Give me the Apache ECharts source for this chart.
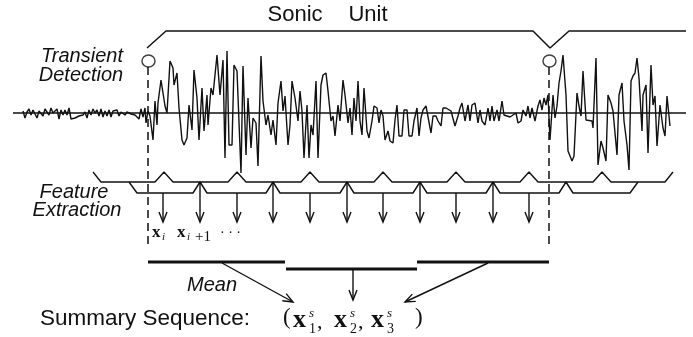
<!DOCTYPE html>
<html><head><meta charset="utf-8">
<script src="https://cdn.jsdelivr.net/npm/echarts@6/dist/echarts.min.js"></script>
<style>html,body{margin:0;padding:0;background:#fff}#c{width:693px;height:337px}</style>
</head><body><div id="c"></div>
<script>
// ---- DATA ----
// waveform samples: time position and amplitude (positive = up)
const waveT = [23,25,27,29,31,33,35,37,39,41,43,45,47,49,51,53,55,57,59,61,63,65,67,69,71,73,75,77,79,81,83,85,87,89,91,93,95,97,99,101,103,105,107,109,111,113,115,117,119,121,123,125,127,129,131,133,135,137,139,141,143,145,146,148,150,153,155,157,158,161,163,165,167,170,173,174,177,179,182,184,187,189,192,194,197,199,202,204,207,208,211,213,217,220,223,225,227,229,232,234,237,241,243,246,248,251,253,256,258,261,263,266,268,271,273,276,278,281,283,285,288,290,292,295,298,300,302,304,307,309,311,313,316,318,321,323,326,328,331,333,335,338,340,343,345,348,350,352,354,356,358,360,362,364,367,369,372,374,377,379,381,383,385,388,390,393,395,397,399,402,404,407,409,412,414,417,419,421,423,426,428,431,433,436,438,441,443,446,448,451,453,455,458,460,462,465,468,470,472,475,478,480,482,485,488,490,492,494,497,499,502,504,507,510,513,516,518,521,523,526,528,530,532,535,538,540,542,544,546,548,550,552,553,555,557,559,561,563,566,568,572,574,577,579,581,583,586,588,592,593,596,598,601,603,606,608,611,613,617,619,622,624,627,629,631,633,635,637,639,642,643,646,648,651,653,655,657,660,663,665,667,670];
const waveA = [2,-5,1,4,-2,3,-1,-5,2,1,-3,4,1,-2,5,0,-1,4,-6,3,-2,3,-2,5,-6,-4,-5,-4,-3,-4,-2,1,-5,3,-2,4,0,3,-3,4,-4,2,-3,3,-4,2,0,3,-3,1,3,-2,1,2,-1,1,-2,-4,-6,4,-4,5,-10,2,-3,-27,12,-12,10,33,35,7,0,52,45,28,40,5,-27,-32,-25,8,-17,43,15,-27,25,-18,18,-12,25,18,58,18,53,-45,62,-32,-32,48,42,-60,47,-42,15,-35,-5,-10,-53,57,12,-12,-2,-22,-7,-32,10,32,2,17,-32,-12,32,15,-8,22,2,-45,8,-45,-12,-22,32,-45,28,38,40,22,-8,-3,-23,8,-8,33,18,-10,5,-22,15,-8,32,-8,-22,25,-18,-25,-8,7,5,-10,3,-3,-27,-18,-28,-30,-7,8,-23,-23,3,3,-23,-23,-8,5,-23,-5,3,7,7,-20,-3,-3,-8,-13,5,5,7,2,0,-13,-3,5,10,-8,8,-8,8,10,-10,3,-8,-12,5,-8,7,-8,3,-8,12,-2,-3,-4,-2,0,-10,-8,3,-3,7,-5,5,-8,7,13,3,15,8,18,-27,-25,18,-5,7,30,42,58,18,-38,-48,-43,20,7,-3,42,-7,-7,-8,-15,55,-52,-28,-35,-48,18,10,2,-42,18,30,-8,-32,-57,32,37,40,55,35,-18,18,28,-40,48,8,17,-33,8,-15,-23,17,-13];
const baselineSpan = [13, 686];
const onsets = [148, 549];          // transient detections
const unitEnd = 686;
const upperWindowPeaks = [164,237,310,383,456,529,602];
const upperRowSpan = [93, 673];
const lowerWindowPeaks = [200,273,347,420,493,566];
const lowerRowSpan = [129, 638];
const featureX = [163,200,237,273,310,347,383,420,456,493,529];
const meanStart = [148,286,417];
const meanEnd = [285,417,549];
const meanLevel = [262,269,262];
const meanFrom = [222,353,488];
const summaryTo = [293,353,405];

// ---- LAYOUT ----
const Y = {bracketTop:31, bracketTip:48, circle:61, dashTop:67, dashBottom:247,
  upper:182, upperPeak:172, lower:193, arrowEnd:222, summaryTop:301};
const INK = '#111';

const lineSeries = (pts, extra) => Object.assign({
  type:'line', xAxisIndex:0, yAxisIndex:0, data:pts, showSymbol:false, symbol:'none',
  silent:true, animation:false, lineStyle:{color:INK, width:1.4}
}, extra||{});

// bracket
const o1 = onsets[0], o2 = onsets[1];
const bracket = [[o1-1,Y.bracketTip],[o1+18,Y.bracketTop],[o2-16,Y.bracketTop],[o2+1,Y.bracketTip],[o2+20,Y.bracketTop],[unitEnd,Y.bracketTop]];
// feature windows
const upperRow = [[upperRowSpan[0],Y.upperPeak],[upperRowSpan[0]+8,Y.upper]];
upperWindowPeaks.forEach(c=>{upperRow.push([c-9,Y.upper],[c,Y.upperPeak],[c+9,Y.upper]);});
upperRow.push([upperRowSpan[1]-8,Y.upper],[upperRowSpan[1],Y.upperPeak]);
const lowerRow = [[lowerRowSpan[0],Y.upper],[lowerRowSpan[0]+8,Y.lower]];
lowerWindowPeaks.forEach(c=>{lowerRow.push([c-7,Y.lower],[c,Y.upper],[c+7,Y.lower]);});
lowerRow.push([lowerRowSpan[1]-8,Y.lower],[lowerRowSpan[1],Y.upper]);

const featureArrows = featureX.map((x,i)=>[x, i%2===0 ? Y.lower : Y.upper, x, Y.arrowEnd]);
const meanArrows = meanFrom.map((x,i)=>[x, meanLevel[i]+1, summaryTo[i], Y.summaryTop + (i===1?-1:1)]);

function arrowRender(params, api){
  const p1 = api.coord([api.value(0), api.value(1)]);
  const p2 = api.coord([api.value(2), api.value(3)]);
  const dx=p2[0]-p1[0], dy=p2[1]-p1[1], len=Math.hypot(dx,dy), ux=dx/len, uy=dy/len;
  const hl=10, hw=4;
  const b1=[p2[0]-ux*hl - uy*hw, p2[1]-uy*hl + ux*hw];
  const b2=[p2[0]-ux*hl + uy*hw, p2[1]-uy*hl - ux*hw];
  return {type:'group', children:[
    {type:'line', shape:{x1:p1[0],y1:p1[1],x2:p2[0],y2:p2[1]}, style:{stroke:INK,lineWidth:1.4}},
    {type:'polyline', shape:{points:[b1,p2,b2]}, style:{stroke:INK,lineWidth:1.4,fill:null}}
  ]};
}

const series = [
  {type:'line', xAxisIndex:1, yAxisIndex:1, data:[[baselineSpan[0],0],[baselineSpan[1],0]], symbol:'none', silent:true, animation:false, lineStyle:{color:INK,width:1.5}},
  {type:'line', xAxisIndex:1, yAxisIndex:1, data:waveT.map((t,i)=>[t,waveA[i]]), symbol:'none', silent:true, animation:false, lineStyle:{color:INK,width:1.4}},
  lineSeries(bracket, {lineStyle:{color:INK,width:1.5}}),
  lineSeries(upperRow),
  lineSeries(lowerRow),
];
onsets.forEach(o=>series.push(lineSeries([[o,Y.dashTop],[o,Y.dashBottom]], {lineStyle:{color:INK,width:1.5,type:[8,5]}})));
meanStart.forEach((s,i)=>series.push(lineSeries([[s,meanLevel[i]],[meanEnd[i],meanLevel[i]]], {lineStyle:{color:INK,width:3}})));
series.push({type:'custom', xAxisIndex:0, yAxisIndex:0, renderItem:arrowRender, data:featureArrows, silent:true, animation:false});
series.push({type:'custom', xAxisIndex:0, yAxisIndex:0, renderItem:arrowRender, data:meanArrows, silent:true, animation:false});
series.push({type:'scatter', xAxisIndex:0, yAxisIndex:0, data:onsets.map(o=>[o+0.5,Y.circle]), symbol:'circle', symbolSize:[13,12],
  itemStyle:{color:'#fff', borderColor:INK, borderWidth:1.4}, silent:true, animation:false, z:5});

const SANS = '"Liberation Sans", Arial, sans-serif';
const SERIF = '"Liberation Serif", "DejaVu Serif", serif';
function T(text, x, y, font, align){
  return {type:'text', silent:true, z:10, style:{text, x, y, font, fill:INK, textAlign:align||'center', textVerticalAlign:'middle'}};
}
const graphic = [
  T('Sonic', 295, 15, '22px '+SANS),
  T('Unit', 368, 15, '22px '+SANS),
  T('Transient', 82, 56, 'italic 20px '+SANS),
  T('Detection', 81, 75, 'italic 20px '+SANS),
  T('Feature', 74, 192, 'italic 20px '+SANS),
  T('Extraction', 77, 210, 'italic 20px '+SANS),
  T('Mean', 212, 285, 'italic 20px '+SANS),
  T('Summary Sequence:', 40, 319, '22.5px '+SANS, 'left'),
  // summary vector
  T('(', 283, 318, '23px '+SERIF, 'left'),
  T('x', 293, 320, 'bold 26px '+SERIF, 'left'),
  T('1', 309, 329, '14px '+SERIF, 'left'),
  T('s', 309, 314, 'italic 13px '+SERIF, 'left'),
  T(',', 317, 322, '22px '+SERIF, 'left'),
  T('x', 334, 320, 'bold 26px '+SERIF, 'left'),
  T('2', 350, 329, '14px '+SERIF, 'left'),
  T('s', 350, 314, 'italic 13px '+SERIF, 'left'),
  T(',', 358, 322, '22px '+SERIF, 'left'),
  T('x', 371, 320, 'bold 26px '+SERIF, 'left'),
  T('3', 387, 329, '14px '+SERIF, 'left'),
  T('s', 387, 314, 'italic 13px '+SERIF, 'left'),
  T(')', 415, 318, '23px '+SERIF, 'left'),
  // feature vector labels
  T('x', 152, 233, 'bold 17px '+SERIF, 'left'),
  T('i', 162, 237, 'italic 11px '+SERIF, 'left'),
  T('x', 177, 233, 'bold 17px '+SERIF, 'left'),
  T('i', 187, 237, 'italic 11px '+SERIF, 'left'),
  T('+1', 195, 237, '15px '+SERIF, 'left'),
  T('\u00b7 \u00b7 \u00b7', 220, 233, '14px '+SERIF, 'left'),
];

const chart = echarts.init(document.getElementById('c'), null, {renderer:'canvas'});
chart.setOption({
  animation:false,
  backgroundColor:'#fff',
  grid:[{left:0,right:0,top:0,bottom:0},{left:0,right:0,top:0,bottom:0}],
  xAxis:[{type:'value',min:0,max:693,show:false,gridIndex:0},{type:'value',min:0,max:693,show:false,gridIndex:1}],
  yAxis:[{type:'value',min:0,max:337,inverse:true,show:false,gridIndex:0},{type:'value',min:-224,max:113,show:false,gridIndex:1}],
  series, graphic
});
</script></body></html>
